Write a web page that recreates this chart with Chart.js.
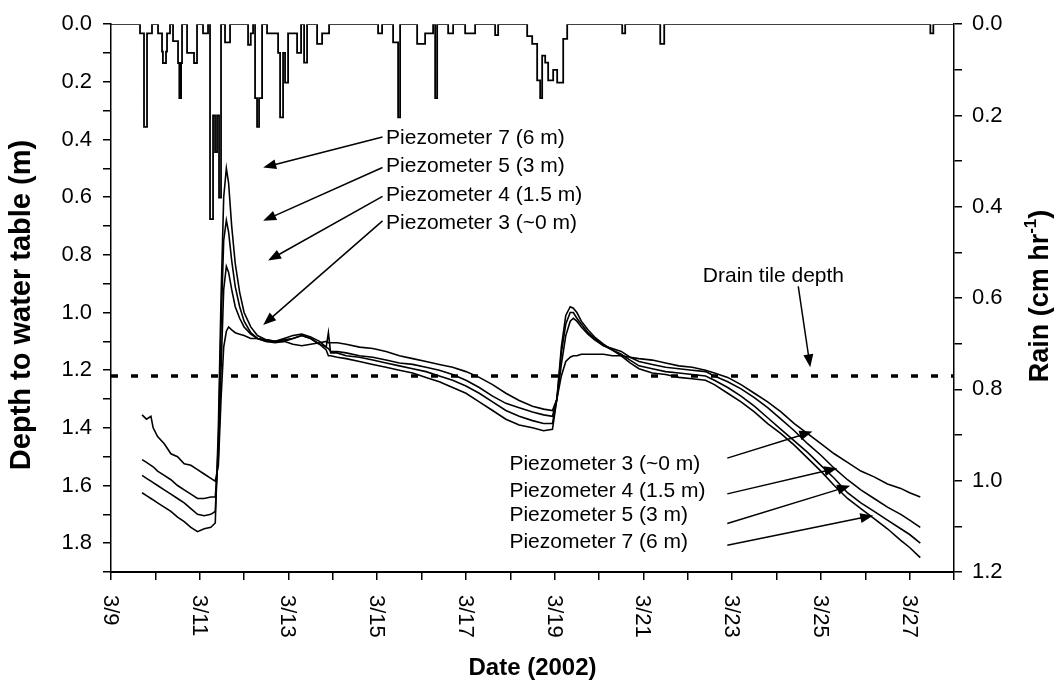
<!DOCTYPE html>
<html>
<head>
<meta charset="utf-8">
<script src="https://cdn.jsdelivr.net/npm/chart.js@4.4.1/dist/chart.umd.min.js"></script>
<style>
  html, body { margin: 0; padding: 0; background: #fff; }
  #wrap { width: 1061px; height: 686px; }
</style>
</head>
<body>
<div id="wrap"><canvas id="chart" width="1061" height="686"></canvas></div>
<script>
// day of March 2002
const days = [9.70, 9.80, 9.90, 9.95, 10.05, 10.20, 10.35, 10.50, 10.65, 10.80,
  10.95, 11.10, 11.25, 11.35, 11.42, 11.48, 11.54, 11.60, 11.65, 11.72,
  11.80, 11.90, 12.00, 12.15, 12.30, 12.50, 12.70, 12.90, 13.10, 13.30,
  13.50, 13.70, 13.85, 13.90, 13.95, 14.10, 14.30, 14.60, 14.90, 15.20,
  15.50, 15.80, 16.10, 16.40, 16.70, 17.00, 17.30, 17.60, 17.90, 18.20,
  18.50, 18.75, 18.95, 19.05, 19.15, 19.25, 19.35, 19.42, 19.50, 19.60,
  19.75, 19.90, 20.10, 20.30, 20.50, 20.70, 20.90, 21.20, 21.50, 21.80,
  22.10, 22.40, 22.60, 22.90, 23.20, 23.50, 23.80, 24.10, 24.40, 24.70,
  25.00, 25.30, 25.60, 25.90, 26.20, 26.50, 26.80, 27.00, 27.24];

// depth to water table (m)
const piezo3 = [1.355, 1.37, 1.36, 1.40, 1.43, 1.455, 1.49, 1.50, 1.525, 1.53,
  1.545, 1.56, 1.575, 1.585, 1.53, 1.30, 1.12, 1.065, 1.05, 1.06,
  1.07, 1.075, 1.08, 1.09, 1.09, 1.10, 1.105, 1.10, 1.11, 1.115,
  1.11, 1.105, 1.10, 1.105, 1.105, 1.105, 1.11, 1.12, 1.125, 1.135,
  1.15, 1.16, 1.17, 1.18, 1.19, 1.205, 1.225, 1.25, 1.28, 1.305,
  1.325, 1.335, 1.34, 1.30, 1.22, 1.17, 1.155, 1.15, 1.15, 1.145,
  1.145, 1.145, 1.145, 1.15, 1.15, 1.155, 1.16, 1.165, 1.175, 1.185,
  1.19, 1.20, 1.21, 1.225, 1.25, 1.28, 1.31, 1.345, 1.385, 1.42,
  1.455, 1.49, 1.52, 1.55, 1.57, 1.595, 1.61, 1.625, 1.64];
const piezo4 = [1.51, 1.52, 1.53, 1.535, 1.55, 1.565, 1.58, 1.60, 1.615, 1.63,
  1.645, 1.645, 1.64, 1.64, 1.50, 1.20, 0.92, 0.84, 0.86, 0.92,
  0.98, 1.02, 1.05, 1.075, 1.09, 1.095, 1.10, 1.095, 1.09, 1.08,
  1.09, 1.11, 1.12, 1.125, 1.135, 1.135, 1.14, 1.15, 1.155, 1.165,
  1.175, 1.18, 1.19, 1.20, 1.215, 1.235, 1.26, 1.29, 1.315, 1.33,
  1.345, 1.355, 1.36, 1.30, 1.18, 1.08, 1.03, 1.02, 1.03, 1.05,
  1.075, 1.095, 1.115, 1.125, 1.135, 1.155, 1.17, 1.18, 1.19, 1.195,
  1.20, 1.205, 1.22, 1.24, 1.265, 1.295, 1.33, 1.37, 1.41, 1.455,
  1.495, 1.54, 1.58, 1.615, 1.645, 1.675, 1.70, 1.72, 1.745];
const piezo5 = [1.565, 1.575, 1.585, 1.59, 1.60, 1.615, 1.63, 1.645, 1.66, 1.68,
  1.70, 1.705, 1.70, 1.69, 1.45, 1.05, 0.75, 0.68, 0.72, 0.82,
  0.91, 0.98, 1.03, 1.07, 1.09, 1.10, 1.10, 1.09, 1.08, 1.075,
  1.085, 1.10, 1.12, 1.07, 1.14, 1.14, 1.15, 1.155, 1.165, 1.175,
  1.185, 1.195, 1.205, 1.22, 1.235, 1.255, 1.28, 1.31, 1.34, 1.36,
  1.375, 1.385, 1.385, 1.30, 1.14, 1.04, 1.00, 1.00, 1.02, 1.04,
  1.07, 1.09, 1.115, 1.13, 1.145, 1.165, 1.185, 1.195, 1.205, 1.21,
  1.215, 1.22, 1.235, 1.26, 1.29, 1.325, 1.365, 1.405, 1.445, 1.485,
  1.53, 1.575, 1.625, 1.66, 1.69, 1.72, 1.75, 1.77, 1.80];
const piezo7 = [1.625, 1.635, 1.645, 1.65, 1.66, 1.675, 1.69, 1.71, 1.725, 1.745,
  1.76, 1.75, 1.745, 1.73, 1.40, 0.95, 0.60, 0.50, 0.55, 0.70,
  0.83, 0.93, 1.00, 1.05, 1.08, 1.095, 1.10, 1.10, 1.09, 1.08,
  1.09, 1.11, 1.13, 1.15, 1.15, 1.155, 1.16, 1.17, 1.18, 1.19,
  1.20, 1.21, 1.225, 1.24, 1.26, 1.28, 1.31, 1.34, 1.37, 1.39,
  1.40, 1.41, 1.405, 1.30, 1.12, 1.01, 0.98, 0.985, 1.00, 1.03,
  1.06, 1.085, 1.11, 1.13, 1.15, 1.175, 1.195, 1.21, 1.215, 1.225,
  1.23, 1.235, 1.25, 1.28, 1.31, 1.345, 1.385, 1.42, 1.46, 1.505,
  1.55, 1.60, 1.645, 1.68, 1.715, 1.75, 1.79, 1.815, 1.85];

// rain (cm/hr), each value holds from its day until the next one
const rainDay = [9.0, 9.654, 9.744, 9.812, 9.924, 10.06, 10.15, 10.17, 10.24, 10.263,
  10.33, 10.398, 10.511, 10.54, 10.58, 10.601, 10.714, 10.871, 10.939, 11.074,
  11.187, 11.232, 11.30, 11.345, 11.39, 11.435, 11.48, 11.57, 11.683, 12.089,
  12.15, 12.202, 12.247, 12.292, 12.337, 12.405, 12.517, 12.766, 12.811, 12.878,
  12.923, 12.991, 13.194, 13.284, 13.352, 13.419, 13.645, 13.758, 13.915, 15.02,
  15.11, 15.358, 15.471, 15.516, 15.90, 16.08, 16.26, 16.306, 16.351, 16.599,
  16.711, 16.982, 17.207, 17.658, 17.726, 18.38, 18.493, 18.605, 18.673, 18.718,
  18.786, 18.853, 18.966, 19.056, 19.192, 19.282, 20.522, 20.589, 21.379, 21.469,
  27.467, 27.534, 28.0];
const rainRate = [0, 0.02, 0.225, 0.02, 0, 0.02, 0.06, 0.085, 0.06, 0.02,
  0, 0.037, 0.085, 0.162, 0.085, 0, 0.063, 0.085, 0, 0.02,
  0, 0.427, 0.2, 0.28, 0.2, 0.38, 0, 0.04, 0, 0.045,
  0.02, 0, 0.162, 0.225, 0.162, 0, 0.02, 0.063, 0.204, 0.063,
  0.128, 0.02, 0.063, 0, 0.084, 0, 0.043, 0.02, 0, 0.02,
  0, 0.04, 0.204, 0, 0.043, 0.02, 0, 0.162, 0, 0.02,
  0, 0.02, 0, 0.024, 0, 0.026, 0.043, 0.123, 0.162, 0.069,
  0.084, 0.123, 0.1, 0.128, 0.032, 0, 0.02, 0, 0.043, 0,
  0.02, 0, 0];

const drainDepth = 1.22;
const dateLabels = [9, 11, 13, 15, 17, 19, 21, 23, 25, 27];

const FONT = 'Arial, "Liberation Sans", sans-serif';

const toPoints = (xs, ys) => xs.map((x, i) => ({ x: x, y: ys[i] }));

const lineSet = (label, values) => ({
  label: label,
  data: toPoints(days, values),
  yAxisID: 'y',
  borderColor: '#000',
  borderWidth: 1.6,
  pointRadius: 0,
  fill: false
});

// arrow + text annotations, in data units (day, depth)
const notes = {
  top: [
    { text: 'Piezometer 7 (6 m)', y: 0.394, tail: [15.12, 0.391], head: [12.43, 0.497] },
    { text: 'Piezometer 5 (3 m)', y: 0.494, tail: [15.12, 0.497], head: [12.43, 0.682] },
    { text: 'Piezometer 4 (1.5 m)', y: 0.593, tail: [15.12, 0.597], head: [12.54, 0.820] },
    { text: 'Piezometer 3 (~0 m)', y: 0.689, tail: [15.12, 0.682], head: [12.43, 1.043] }
  ],
  bottom: [
    { text: 'Piezometer 3 (~0 m)', y: 1.526, tail: [22.89, 1.505], head: [24.81, 1.413] },
    { text: 'Piezometer 4 (1.5 m)', y: 1.619, tail: [22.89, 1.629], head: [25.37, 1.540] },
    { text: 'Piezometer 5 (3 m)', y: 1.704, tail: [22.89, 1.732], head: [25.66, 1.601] },
    { text: 'Piezometer 7 (6 m)', y: 1.797, tail: [22.89, 1.807], head: [26.18, 1.704] }
  ]
};

function arrow(ctx, x1, y1, x2, y2) {
  const ang = Math.atan2(y2 - y1, x2 - x1);
  const len = 13, hw = 5;
  ctx.beginPath();
  ctx.moveTo(x1, y1);
  ctx.lineTo(x2 - Math.cos(ang) * len * 0.8, y2 - Math.sin(ang) * len * 0.8);
  ctx.stroke();
  ctx.beginPath();
  ctx.moveTo(x2, y2);
  ctx.lineTo(x2 - Math.cos(ang) * len + Math.sin(ang) * hw, y2 - Math.sin(ang) * len - Math.cos(ang) * hw);
  ctx.lineTo(x2 - Math.cos(ang) * len - Math.sin(ang) * hw, y2 - Math.sin(ang) * len + Math.cos(ang) * hw);
  ctx.closePath();
  ctx.fill();
}

const extras = {
  id: 'extras',
  afterDraw(chart) {
    const ctx = chart.ctx;
    const xs = chart.scales.x, ys = chart.scales.y;
    const area = chart.chartArea;
    ctx.save();
    ctx.fillStyle = '#000';
    ctx.strokeStyle = '#000';

    // rotated date labels
    ctx.font = '22px ' + FONT;
    ctx.textAlign = 'left';
    ctx.textBaseline = 'middle';
    dateLabels.forEach(d => {
      ctx.save();
      ctx.translate(xs.getPixelForValue(d), area.bottom + 23);
      ctx.rotate(Math.PI / 2);
      ctx.fillText('3/' + d, 0, 1);
      ctx.restore();
    });

    // axis titles
    ctx.font = 'bold 24px ' + FONT;
    ctx.textAlign = 'center';
    ctx.fillText('Date (2002)', (area.left + area.right) / 2, 668);

    ctx.font = 'bold 29px ' + FONT;
    ctx.save();
    ctx.translate(22, 305);
    ctx.rotate(-Math.PI / 2);
    ctx.fillText('Depth to water table (m)', 0, 0);
    ctx.restore();

    ctx.save();
    ctx.translate(1041, 296);
    ctx.rotate(-Math.PI / 2);
    const a = 'Rain (cm hr', sup = '-1', b = ')';
    ctx.font = 'bold 27px ' + FONT;
    const wa = ctx.measureText(a).width, wb = ctx.measureText(b).width;
    ctx.font = 'bold 17px ' + FONT;
    const ws = ctx.measureText(sup).width;
    let x0 = -(wa + ws + wb) / 2;
    ctx.textAlign = 'left';
    ctx.font = 'bold 27px ' + FONT;
    ctx.fillText(a, x0, 0);
    ctx.font = 'bold 17px ' + FONT;
    ctx.fillText(sup, x0 + wa, -10);
    ctx.font = 'bold 27px ' + FONT;
    ctx.fillText(b, x0 + wa + ws, 0);
    ctx.restore();

    // piezometer notes
    ctx.font = '21px ' + FONT;
    ctx.textAlign = 'left';
    ctx.lineWidth = 1.5;
    notes.top.forEach(n => {
      ctx.fillText(n.text, xs.getPixelForValue(15.2), ys.getPixelForValue(n.y));
      arrow(ctx, xs.getPixelForValue(n.tail[0]), ys.getPixelForValue(n.tail[1]),
        xs.getPixelForValue(n.head[0]), ys.getPixelForValue(n.head[1]));
    });
    notes.bottom.forEach(n => {
      ctx.fillText(n.text, xs.getPixelForValue(17.98), ys.getPixelForValue(n.y));
      arrow(ctx, xs.getPixelForValue(n.tail[0]), ys.getPixelForValue(n.tail[1]),
        xs.getPixelForValue(n.head[0]), ys.getPixelForValue(n.head[1]));
    });

    // drain tile label
    ctx.textAlign = 'center';
    ctx.fillText('Drain tile depth', xs.getPixelForValue(23.93), ys.getPixelForValue(0.874));
    arrow(ctx, xs.getPixelForValue(24.49), ys.getPixelForValue(0.909),
      xs.getPixelForValue(24.76), ys.getPixelForValue(1.19));

    ctx.restore();
  }
};

const tenthLabel = v => (Math.round(v * 10) % 2 === 0 ? v.toFixed(1) : '');

new Chart('chart', {
  type: 'line',
  data: {
    datasets: [
      {
        label: 'Rain',
        data: toPoints(rainDay, rainRate),
        yAxisID: 'y2',
        stepped: true,
        borderColor: '#000',
        borderWidth: 1.8,
        pointRadius: 0,
        fill: false
      },
      lineSet('Piezometer 3', piezo3),
      lineSet('Piezometer 4', piezo4),
      lineSet('Piezometer 5', piezo5),
      lineSet('Piezometer 7', piezo7),
      {
        label: 'Drain tile depth',
        data: [{ x: 9, y: drainDepth }, { x: 28, y: drainDepth }],
        yAxisID: 'y',
        borderColor: '#000',
        borderWidth: 3.5,
        borderDash: [7, 13],
        pointRadius: 0,
        fill: false
      }
    ]
  },
  options: {
    responsive: false,
    animation: false,
    devicePixelRatio: 1,
    layout: { padding: { top: 18 } },
    plugins: {
      legend: { display: false },
      tooltip: { enabled: false }
    },
    scales: {
      x: {
        type: 'linear',
        position: 'bottom',
        min: 9,
        max: 28,
        border: { color: '#000', width: 2 },
        grid: { drawOnChartArea: false, drawTicks: true, tickLength: 8, color: '#000', lineWidth: 1.5 },
        ticks: { stepSize: 1, autoSkip: false, maxRotation: 0, callback: () => '' },
        afterFit: s => { s.height = 114; }
      },
      y: {
        type: 'linear',
        position: 'left',
        reverse: true,
        min: 0,
        max: 1.9,
        border: { color: '#000', width: 1.5 },
        grid: { drawOnChartArea: false, tickLength: 8, color: '#000', lineWidth: 1.5 },
        ticks: {
          stepSize: 0.1, autoSkip: false, padding: 11, color: '#000',
          font: { family: FONT, size: 22 },
          callback: tenthLabel
        },
        afterFit: s => { s.width = 111; }
      },
      y2: {
        type: 'linear',
        position: 'right',
        reverse: true,
        min: 0,
        max: 1.2,
        border: { color: '#000', width: 1.5 },
        grid: { drawOnChartArea: false, tickLength: 8, color: '#000', lineWidth: 1.5 },
        ticks: {
          stepSize: 0.1, autoSkip: false, padding: 10, color: '#000',
          font: { family: FONT, size: 22 },
          callback: tenthLabel
        },
        afterFit: s => { s.width = 107; }
      }
    }
  },
  plugins: [extras]
});
</script>
</body>
</html>
